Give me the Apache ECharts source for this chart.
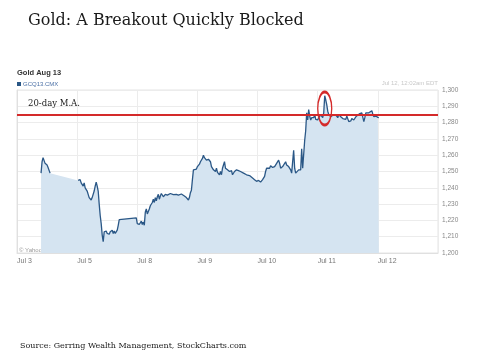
<!DOCTYPE html>
<html><head><meta charset="utf-8">
<script src="https://cdn.jsdelivr.net/npm/echarts@6/dist/echarts.min.js"></script>
<style>html,body{margin:0;padding:0;background:#fff}#c{width:480px;height:360px}</style>
</head><body><div id="c"></div>
<script>
// Trading-day labels (each trading day = 24 session hours on the x axis)
const dayLabels = ['Jul 3', 'Jul 5', 'Jul 8', 'Jul 9', 'Jul 10', 'Jul 11', 'Jul 12'];
// Session hours since the Jul 3 open
const hours = [
  9.6, 10, 10.4, 10.8, 11.2, 11.6, 12, 12.4, 13.2,
  24.4, 24.8, 25.2, 25.6, 26, 26.4, 26.8, 27.2, 27.6, 28, 28.4, 28.8, 29.2, 29.6, 30, 30.4, 30.8, 31.2, 31.6, 32, 32.4, 32.8, 33.2, 33.6, 34, 34.4, 34.8, 35.2, 35.6, 36, 36.4, 36.8, 37.2, 37.6, 38, 38.4, 38.8, 39.2, 39.6, 40, 40.4, 40.8, 41.2, 47.6,
  48, 48.4, 48.8, 49.2, 49.6, 50, 50.4, 50.8, 51.2, 51.6, 52, 52.4, 52.8, 53.2, 53.6, 54, 54.4, 54.8, 55.2, 55.6, 56, 56.4, 56.8, 57.2, 57.6, 58, 58.4, 59.2, 60, 61.2, 62.4, 63.6, 64.4, 65.6, 66.8, 67.6, 68.4, 68.8, 69.2, 69.6, 70, 70.4, 70.8, 71.6,
  72, 72.8, 73.2, 73.6, 74, 74.4, 74.8, 75.2, 75.6, 76.4, 77.2, 77.6, 78, 78.4, 79.2, 79.6, 80, 80.8, 81.2, 81.6, 82, 82.4, 82.8, 83.2, 83.6, 84, 84.8, 85.6, 86, 86.8, 87.6, 88.4, 89.2, 90.4, 91.6, 92.8, 94, 94.8, 95.6, 96.4,
  97.2, 98, 98.4, 98.8, 99.2, 99.6, 100, 100.8, 101.2, 102, 102.8, 103.2, 103.6, 104.4, 104.8, 105.2, 106, 106.4, 107.2, 107.6, 108.4, 109.2, 109.6, 110, 110.4, 110.8, 111.2, 111.6, 112.4, 112.8, 113.2, 113.6, 114, 114.4, 114.8, 115.2, 115.6, 116, 116.4, 116.8, 117.2, 117.6, 118.4, 118.8, 119.2, 120,
  120.4, 121.2, 121.6, 122, 122.4, 122.8, 123.2, 123.6, 124, 124.4, 125.2, 126, 126.4, 127.2, 128, 128.4, 129.2, 130, 130.4, 131.2, 131.6, 132.4, 133.2, 133.6, 134.4, 135.2, 136, 136.8, 137.6, 138, 138.4, 138.8, 139.2, 139.6, 140.4, 140.8, 141.6, 142, 142.4, 143.2, 144, 144.4
];
// GCQ13.CMX price
const prices = [
  1249, 1256, 1258.5, 1258, 1255, 1256, 1254, 1252.5, 1249,
  1244.5, 1244, 1245, 1243, 1244, 1241, 1243, 1240, 1241, 1238, 1236, 1234, 1233, 1232.5, 1234, 1235, 1238, 1241, 1243.5, 1241, 1238, 1230, 1223, 1218, 1211, 1207, 1213, 1212, 1213.5, 1212, 1213, 1211.5, 1213, 1212.5, 1214, 1212, 1213.5, 1212, 1213, 1214, 1217, 1220.5, 1221.5, 1221.5,
  1218, 1218.5, 1217.5, 1218.5, 1219.5, 1217.5, 1219, 1217, 1225, 1227, 1224, 1223, 1227, 1229, 1228, 1231, 1233, 1231, 1234, 1232, 1234.5, 1236, 1233, 1235, 1236.5, 1237.5, 1234.5, 1236, 1235.5, 1236.5, 1235.8, 1236, 1235.5, 1236.2, 1235, 1234, 1232.5, 1234, 1237, 1238.5, 1245, 1251, 1252, 1251.5,
  1253, 1254.5, 1256, 1255, 1258, 1260, 1258.5, 1258, 1257, 1257.5, 1256, 1253, 1254, 1251, 1250, 1252, 1249.5, 1248, 1250, 1248, 1252, 1254, 1256, 1252, 1253, 1251, 1250, 1250.5, 1248, 1250, 1251, 1250.5, 1250, 1249, 1248, 1247.5, 1246, 1245, 1244, 1244.5,
  1243.5, 1245, 1245.5, 1247, 1250, 1252, 1253, 1252, 1253.5, 1252.5, 1253, 1254, 1255, 1257, 1255, 1252, 1253, 1254, 1256, 1254, 1253, 1251, 1249, 1248, 1263, 1252, 1249, 1248.5, 1251, 1250, 1251, 1264, 1252, 1253, 1269, 1275, 1286, 1281.6, 1288, 1284, 1281.6, 1283, 1283, 1285, 1282, 1281.6,
  1283, 1284.7, 1283.5, 1283, 1286, 1296.5, 1294, 1291, 1287, 1285, 1283.6, 1284.5, 1283.5, 1284.7, 1283, 1285, 1283.6, 1282.5, 1283, 1282, 1284, 1280.6, 1281, 1282.5, 1281.6, 1283.5, 1284.7, 1285.5, 1286, 1285, 1280.6, 1283, 1286, 1285.5, 1286, 1285, 1287.3, 1285, 1283.6, 1284, 1283.2, 1283
];
const maValue = 1285;           // 20-day moving average level
const circled = [122.8, 1288.6]; // circled breakout spike (hour, price)
const yMin = 1200, yMax = 1300, yStep = 10;

const chart = echarts.init(document.getElementById('c'), null, {renderer: 'canvas'});
const areaData = hours.map((h, i) => [h, prices[i]]);
// price line is broken across the long holiday gap (no trading); the area stays continuous
const lineData = [];
hours.forEach((h, i) => {
  if (i > 0 && h - hours[i - 1] > 8) lineData.push([(h + hours[i - 1]) / 2, null]);
  lineData.push([h, prices[i]]);
});
const serif = 'DejaVu Serif';
const sans = 'Liberation Sans';

chart.setOption({
  animation: false,
  backgroundColor: '#fff',
  title: [
    {text: 'Gold: A Breakout Quickly Blocked', left: 23, top: 8,
     textStyle: {fontFamily: serif, fontSize: 16, fontWeight: 'normal', color: '#1a1a1a'}},
    {text: 'Source: Gerring Wealth Management, StockCharts.com', left: 15, top: 337,
     textStyle: {fontFamily: serif, fontSize: 8, fontWeight: 'normal', color: '#1a1a1a'}},
    {text: 'Gold Aug 13', left: 12, top: 64,
     textStyle: {fontFamily: sans, fontSize: 7.5, fontWeight: 'bold', color: '#333'}}
  ],
  legend: {
    left: 17, top: 81, icon: 'rect', itemWidth: 4, itemHeight: 4, itemGap: 2,
    padding: 0,
    textStyle: {fontFamily: sans, fontSize: 6, color: '#4a6fa5', padding: [0, 0, 0, -3]},
    data: ['GCQ13.CMX']
  },
  graphic: [
    {type: 'text', right: 42, top: 80,
     style: {text: 'Jul 12, 12:02am EDT', fontFamily: sans, fontSize: 6, fill: '#c8c8c8'}},
    {type: 'text', left: 19, top: 247,
     style: {text: '© Yahoo!', fontFamily: sans, fontSize: 6, fill: '#999'}}
  ],
  grid: {left: 17, top: 90, width: 421, height: 163, show: true, borderColor: '#e4e4e4', borderWidth: 1, backgroundColor: 'transparent'},
  xAxis: {
    type: 'value', min: 0, max: 168, interval: 24,
    axisLine: {show: true, lineStyle: {color: '#e0e0e0'}},
    axisTick: {show: false},
    splitLine: {show: true, lineStyle: {color: '#ececec', width: 1}},
    axisLabel: {formatter: v => dayLabels[Math.round(v / 24)] || '', align: 'left',
      fontFamily: sans, fontSize: 7, color: '#777', margin: 5}
  },
  yAxis: {
    type: 'value', position: 'right', min: yMin, max: yMax, interval: yStep,
    axisLine: {show: true, lineStyle: {color: '#e0e0e0'}},
    axisTick: {show: false},
    splitLine: {show: true, lineStyle: {color: '#ececec', width: 1}},
    axisLabel: {formatter: v => v.toLocaleString('en-US'), fontFamily: sans, fontSize: 6.5, color: '#888', margin: 4}
  },
  series: [{
    name: 'GCQ13.CMX area', type: 'line', data: areaData, showSymbol: false, symbol: 'none',
    lineStyle: {width: 0, opacity: 0},
    areaStyle: {color: '#d5e4f1', opacity: 1},
    silent: true, z: 1
  }, {
    name: 'GCQ13.CMX', type: 'line', data: lineData, showSymbol: false, symbol: 'none',
    connectNulls: false,
    color: '#2a5786',
    lineStyle: {color: '#2a5786', width: 1.3},
    z: 2,
    markLine: {
      silent: true, symbol: 'none', animation: false,
      lineStyle: {color: '#d42a2a', width: 2, type: 'solid'},
      label: {show: true, formatter: '20-day M.A.', position: 'insideStartTop', distance: [11, 6],
        fontFamily: serif, fontSize: 8.5, color: '#1a1a1a'},
      data: [{yAxis: maValue}]
    },
    markPoint: {
      silent: true, symbol: 'circle', symbolSize: [14, 33],
      itemStyle: {color: 'rgba(0,0,0,0)', borderColor: '#d42a2a', borderWidth: 2},
      label: {show: false},
      data: [{coord: circled}]
    }
  }]
});
</script></body></html>
